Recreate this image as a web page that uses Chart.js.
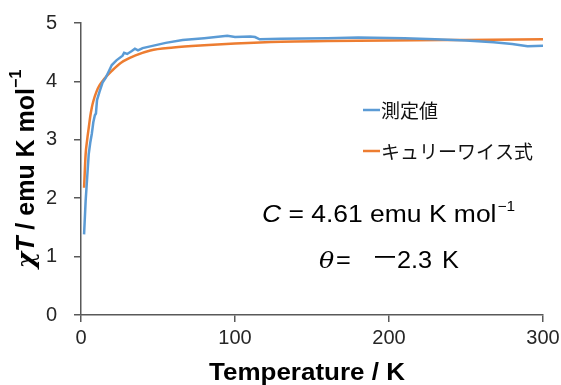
<!DOCTYPE html>
<html>
<head>
<meta charset="utf-8">
<script src="https://cdn.jsdelivr.net/npm/chart.js@4"></script>
<style>
  html, body { margin: 0; padding: 0; background: #fff; }
  #wrap { width: 561px; height: 385px; }
</style>
</head>
<body>
<div id="wrap"><canvas id="chart" width="561" height="385"></canvas></div>
<script>
const measuredT = [2, 3, 4, 5, 6, 7, 8, 9, 9.7, 10.4, 12, 14, 16, 18, 20, 23, 27, 28, 30, 33, 35, 37, 40, 45, 55, 66, 80, 95, 100, 110, 113, 116, 130, 160, 180, 210, 230, 250, 268, 280, 290, 300];
const measuredChiT = [1.38, 1.95, 2.35, 2.75, 2.95, 3.10, 3.30, 3.42, 3.45, 3.68, 3.82, 3.98, 4.06, 4.17, 4.28, 4.36, 4.44, 4.49, 4.47, 4.52, 4.56, 4.53, 4.57, 4.60, 4.66, 4.71, 4.74, 4.78, 4.76, 4.77, 4.76, 4.72, 4.73, 4.74, 4.75, 4.74, 4.72, 4.70, 4.67, 4.64, 4.60, 4.61];

// Curie-Weiss fit curve
const fitT = [2, 3, 4, 5, 6, 7, 8, 10, 12, 15, 20, 26, 35, 45, 60, 80, 100, 130, 160, 200, 250, 300];
const fitChiT = [2.18, 2.75, 3.00, 3.20, 3.40, 3.55, 3.66, 3.82, 3.93, 4.04, 4.18, 4.32, 4.44, 4.53, 4.58, 4.62, 4.65, 4.68, 4.69, 4.70, 4.71, 4.72];

const seriesNames = ['測定値', 'キュリーワイス式'];
const xTicks = [0, 100, 200, 300];
const yTicks = [0, 1, 2, 3, 4, 5];

const FONT = '"Liberation Sans", Arial, sans-serif';
const JP = '"Noto Sans CJK JP", "Liberation Sans", sans-serif';

const toPts = (xs, ys) => xs.map((x, i) => ({ x: x, y: ys[i] }));

// draw text stretched horizontally by sx, left edge at x; returns drawn width
function word(ctx, text, x, y, font, sx) {
    ctx.save();
    ctx.font = font;
    ctx.translate(x, y);
    ctx.scale(sx, 1);
    ctx.fillText(text, 0, 0);
    const w = ctx.measureText(text).width * sx;
    ctx.restore();
    return w;
}

// draws legend, fit parameters and axis titles
const extras = {
    id: 'extras',
    afterDraw(chart) {
        const ctx = chart.ctx;
        ctx.save();
        ctx.textAlign = 'left';

        // legend inside the plot
        chart.data.datasets.forEach((ds, i) => {
            const y = 110 + i * 41;
            ctx.strokeStyle = ds.borderColor;
            ctx.lineWidth = 2.5;
            ctx.beginPath();
            ctx.moveTo(363, y);
            ctx.lineTo(380, y);
            ctx.stroke();
            ctx.fillStyle = '#111';
            ctx.textBaseline = 'middle';
            ctx.font = '19px ' + JP;
            ctx.fillText(ds.label, 381, y + 1);
        });

        // fit parameters
        ctx.fillStyle = '#000';
        ctx.textBaseline = 'alphabetic';
        const f = '23px ' + FONT;
        let x = 262;
        x += word(ctx, 'C', x, 222, 'italic 23px ' + FONT, 1.15);
        x += word(ctx, ' = 4.61 emu K mol', x, 222, f, 1.15);
        word(ctx, '\u22121', x + 1, 211, '14px ' + FONT, 1.1);

        word(ctx, '\u03b8', 319, 268, 'italic 23px "DejaVu Serif", serif', 1.1);
        word(ctx, '=', 336, 268, f, 1.1);
        ctx.fillRect(375, 256, 20, 1.8);
        word(ctx, '2.3', 397, 268, f, 1.1);
        word(ctx, 'K', 442, 268, f, 1.1);

        // x axis title
        ctx.font = 'bold 23px ' + FONT;
        const xt = 'Temperature / K';
        const xw = ctx.measureText(xt).width * 1.13;
        word(ctx, xt, 307 - xw / 2, 380, 'bold 23px ' + FONT, 1.13);

        // y axis title
        ctx.translate(27, 169);
        ctx.rotate(-Math.PI / 2);
        const parts = [
            { t: '\u03c7', f: 'italic bold 25px "DejaVu Serif", serif', dy: 0 },
            { t: 'T', f: 'italic bold 25px ' + FONT, dy: 0 },
            { t: ' / emu K mol', f: 'bold 25px ' + FONT, dy: 0 },
            { t: '\u22121', f: 'bold 16px ' + FONT, dy: -10 }
        ];
        let w = 0;
        parts.forEach(p => { ctx.font = p.f; w += ctx.measureText(p.t).width; });
        let px = -w / 2;
        ctx.textBaseline = 'middle';
        parts.forEach(p => {
            ctx.font = p.f;
            ctx.fillText(p.t, px, p.dy);
            px += ctx.measureText(p.t).width;
        });
        ctx.restore();
    }
};

new Chart(document.getElementById('chart'), {
    type: 'scatter',
    data: {
        datasets: [
            {
                label: seriesNames[0],
                data: toPts(measuredT, measuredChiT),
                showLine: true,
                borderColor: '#5B9BD5',
                backgroundColor: '#5B9BD5',
                borderWidth: 2.5,
                pointRadius: 0,
                tension: 0
            },
            {
                label: seriesNames[1],
                data: toPts(fitT, fitChiT),
                showLine: true,
                borderColor: '#ED7D31',
                backgroundColor: '#ED7D31',
                borderWidth: 2.5,
                pointRadius: 0,
                cubicInterpolationMode: 'monotone'
            }
        ]
    },
    options: {
        responsive: false,
        animation: false,
        layout: { padding: { top: 23, right: 18, left: 2, bottom: 0 } },
        plugins: {
            legend: { display: false },
            tooltip: { enabled: false }
        },
        scales: {
            x: {
                type: 'linear',
                min: 0,
                max: 300,
                afterBuildTicks: s => { s.ticks = xTicks.map(v => ({ value: v })); },
                afterFit: s => { s.height = 70; s.paddingLeft = 0; s.paddingRight = 0; },
                grid: { drawOnChartArea: false, drawTicks: true, tickLength: 7, color: '#595959', lineWidth: 1.5 },
                border: { color: '#595959', width: 1.5 },
                ticks: { color: '#262626', font: { family: FONT, size: 20 }, padding: 4, maxRotation: 0 }
            },
            y: {
                min: 0,
                max: 5,
                afterBuildTicks: s => { s.ticks = yTicks.map(v => ({ value: v })); },
                afterFit: s => { s.width = 79; s.paddingTop = 0; s.paddingBottom = 0; },
                grid: { drawOnChartArea: false, drawTicks: true, tickLength: 7, color: '#595959', lineWidth: 1.5 },
                border: { color: '#595959', width: 1.5 },
                ticks: { color: '#262626', font: { family: FONT, size: 20 }, padding: 17 }
            }
        }
    },
    plugins: [extras]
});
</script>
</body>
</html>
